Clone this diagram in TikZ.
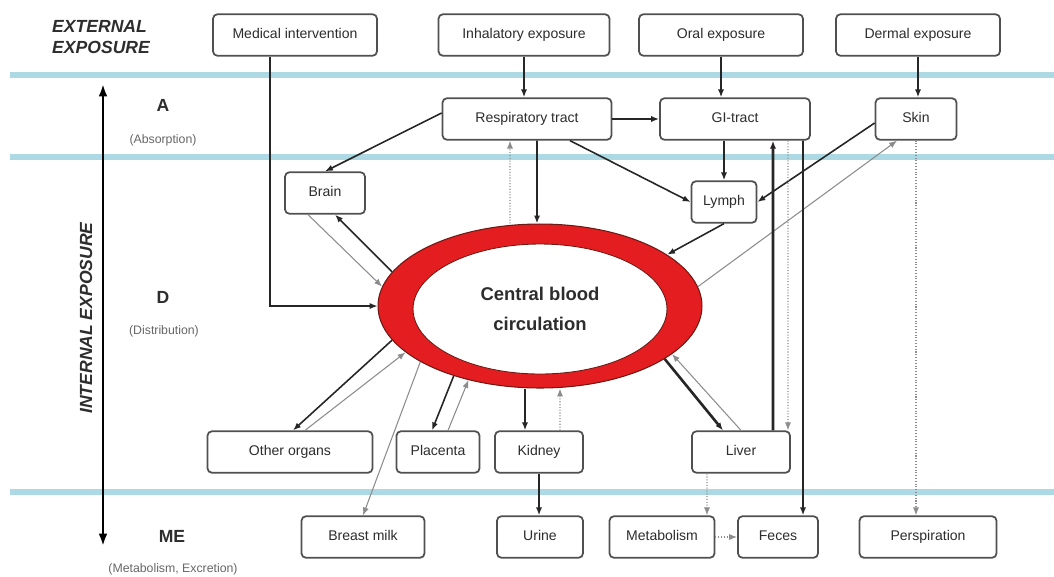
\documentclass[tikz,border=0pt]{standalone}
\usepackage{fontspec}
\setmainfont{Liberation Sans}
\usetikzlibrary{shapes.geometric,arrows.meta}
\definecolor{bandcyan}{RGB}{172,217,227}
\definecolor{boxline}{RGB}{80,80,80}
\definecolor{bloodred}{RGB}{228,30,32}
\definecolor{darkred}{RGB}{110,25,20}
\definecolor{txt}{RGB}{45,45,45}
\begin{document}
\begin{tikzpicture}[x=0.02cm,y=-0.02cm,
    organ/.style={draw=boxline,line width=1pt,rounded corners=2.5pt,fill=white,
      text=txt,font=\fontsize{8}{9}\selectfont,minimum height=0.83cm,inner sep=2pt,
      text height=6pt,text depth=1.7pt},
    band/.style={bandcyan,line width=3.5pt},
    phase/.style={text=txt,font=\fontsize{10}{12}\bfseries\selectfont},
    phasenote/.style={text=black!60,font=\fontsize{7}{8}\selectfont},
    flow/.style={draw=black!85,line width=0.9pt,-{Latex[length=4.5pt,width=3.5pt]}},
    strong/.style={flow,line width=1.5pt},
    back/.style={draw=black!45,line width=0.6pt,-{Latex[length=4.5pt,width=3.5pt]}},
    faint/.style={back,densely dotted,line width=0.7pt}]
  \useasboundingbox (0,0) rectangle (1054,576);

  % phase bands
  \draw[band] (10,75) -- (1054,75);
  \draw[band] (10,157) -- (1054,157);
  \draw[band] (10,492) -- (1054,492);

  % left labels
  \node[anchor=west,align=left,text=txt,font=\fontsize{10}{11.5}\bfseries\itshape\selectfont] (ext) at (46,37) {EXTERNAL\\EXPOSURE};
  \node[rotate=90,text=txt,font=\fontsize{10}{12}\bfseries\itshape\selectfont] (int) at (86,318) {INTERNAL EXPOSURE};
  \coordinate (axtop) at (103,84);
  \coordinate (axbot) at (103,546);
  \draw[line width=1.6pt,{Latex[length=7pt,width=5pt]}-{Latex[length=7pt,width=5pt]}] (axtop) -- (axbot);
  \node[phase] (labA) at (163,105) {A};
  \node[phasenote] (noteA) at (163,140) {(Absorption)};
  \node[phase] (labD) at (163,297) {D};
  \node[phasenote] (noteD) at (164,331) {(Distribution)};
  \node[phase] (labME) at (172,536) {ME};
  \node[phasenote] (noteME) at (173,569) {(Metabolism, Excretion)};

  % exposure routes
  \node[organ,minimum width=3.28cm] (med) at (295,35) {Medical intervention};
  \node[organ,minimum width=3.42cm] (inh) at (524,35) {Inhalatory exposure};
  \node[organ,minimum width=3.28cm] (oral) at (721,35) {Oral exposure};
  \node[organ,minimum width=3.28cm] (derm) at (918,35) {Dermal exposure};

  % absorption
  \node[organ,minimum width=3.38cm] (resp) at (527,119) {Respiratory tract};
  \node[organ,minimum width=3.0cm] (gi) at (735,119) {GI-tract};
  \node[organ,minimum width=1.62cm] (skin) at (916,119) {Skin};

  % distribution
  \node[organ,minimum width=1.6cm] (brain) at (325,193) {Brain};
  \node[organ,minimum width=1.3cm] (lymph) at (724,202) {Lymph};
  \node[ellipse,draw=darkred,line width=0.6pt,fill=bloodred,minimum width=6.48cm,minimum height=3.28cm] (blood) at (540,306) {};
  \node[ellipse,draw=darkred,line width=0.5pt,fill=white,minimum width=5.08cm,minimum height=2.6cm,
    align=center,text=txt,font=\fontsize{10.5}{17}\bfseries\selectfont] (bloodin) at (540,309) {Central blood\\circulation};
  \node[organ,minimum width=3.3cm] (other) at (290,452) {Other organs};
  \node[organ,minimum width=1.66cm] (plac) at (438,452) {Placenta};
  \node[organ,minimum width=1.76cm] (kid) at (539,452) {Kidney};
  \node[organ,minimum width=1.96cm] (liver) at (741,452) {Liver};

  % metabolism, excretion
  \node[organ,minimum width=2.46cm] (milk) at (363,537) {Breast milk};
  \node[organ,minimum width=1.72cm] (urine) at (540,537) {Urine};
  \node[organ,minimum width=2.1cm] (metab) at (662,537) {Metabolism};
  \node[organ,minimum width=1.6cm] (feces) at (778,537) {Feces};
  \node[organ,minimum width=2.74cm] (persp) at (928,537) {Perspiration};

  \begin{scope}
    \draw[flow,line width=0.7pt] ([xshift=-0.5cm]med.south) |- (blood.west);
    \draw[flow] (inh.south) -- (inh.south |- resp.north);
    \draw[flow] (oral.south) -- (oral.south |- gi.north);
    \draw[flow] (derm.south) -- (derm.south |- skin.north);
    \draw[strong] (resp.east) -- (gi.west);
    \draw[flow] ([yshift=0.12cm]resp.west) -- (brain.north);
    \draw[flow] ([xshift=0.86cm]resp.south) -- (lymph.west);
    \draw[flow] ([xshift=0.2cm]resp.south) -- ([xshift=-0.06cm]blood.north);
    \draw[faint] ([xshift=-0.6cm]blood.north) -- ([xshift=-0.34cm]resp.south);
    \draw[flow] (gi.south -| lymph.north) -- (lymph.north);
    \draw[flow] ([yshift=-0.08cm]skin.west) -- (lymph.east);
    \draw[flow] (lymph.south) -- (blood.22);
    \draw[back] (blood.7) -- ([xshift=-0.38cm]skin.south);
    \draw[flow] (blood.167) -- ([xshift=0.2cm]brain.south);
    \draw[back] ([xshift=-0.34cm]brain.south) -- (blood.173);
    \draw[flow] (blood.193) -- ([xshift=0.06cm]other.north);
    \draw[back] ([xshift=0.3cm]other.north) -- (blood.199);
    \draw[back] (blood.205) -- (milk.north);
    \draw[flow] (blood.219) -- ([xshift=-0.12cm]plac.north);
    \draw[back] ([xshift=0.2cm]plac.north) -- (blood.226);
    \draw[strong] ([xshift=-0.3cm]blood.south) -- ([xshift=-0.28cm]kid.north);
    \draw[faint] ([xshift=0.42cm]kid.north) -- ([xshift=0.4cm]blood.south);
    \draw[flow] (kid.south) -- (kid.south |- urine.north);
    \draw[strong] (blood.-23) -- ([xshift=-0.36cm]liver.north);
    \draw[back] (liver.north) -- (blood.-20);
    \draw[strong] ([xshift=0.64cm]liver.north) -- ([xshift=0.76cm]gi.south);
    \draw[faint] ([xshift=1.06cm]gi.south) -- ([xshift=0.94cm]liver.north);
    \draw[flow] ([xshift=1.36cm]gi.south) -- ([xshift=0.5cm]feces.north);
    \draw[faint] ([xshift=-0.68cm]liver.south) -- ([xshift=0.9cm]metab.north);
    \draw[faint] (metab.east) -- (feces.west);
    \draw[faint] (skin.south) -- (skin.south |- persp.north);
  \end{scope}
\end{tikzpicture}
\end{document}
